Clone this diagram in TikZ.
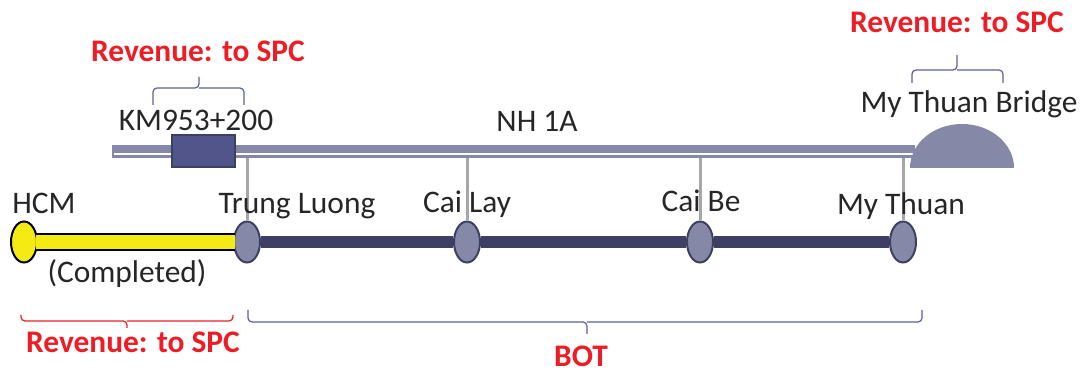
\documentclass[tikz,border=0pt]{standalone}
\usepackage{fontspec}
\setmainfont{Carlito}
\usepackage{xcolor}
\usepackage{tikz}
\usetikzlibrary{shapes.geometric,shapes.misc}
\definecolor{roadc}{HTML}{8589A7}
\definecolor{darkc}{HTML}{3F3F65}
\definecolor{stnb}{HTML}{3E4060}
\definecolor{kmc}{HTML}{52558A}
\definecolor{linkc}{HTML}{A6A6A6}
\definecolor{yelc}{HTML}{F5EB14}
\definecolor{revc}{HTML}{EE1C25}
\definecolor{brcb}{HTML}{5A5E9E}
\definecolor{txtc}{HTML}{262626}

\begin{document}
\begin{tikzpicture}[x=0.5pt, y=-0.5pt,
  lbl/.style={font=\fontsize{15.7}{18}\selectfont, text=txtc, inner sep=0pt, anchor=base},
  rev/.style={lbl, font=\fontsize{15.7}{18}\selectfont\bfseries, text=revc},
  stn/.style={ellipse, draw=stnb, fill=roadc, line width=1pt,
              minimum width=13pt, minimum height=20.5pt, inner sep=0pt},
  link/.style={draw=linkc, line width=1.5pt},
  bar/.style={draw=darkc, line width=6pt},
  brc/.style={line width=0.6pt, rounded corners=2pt}]
\useasboundingbox (0,0) rectangle (1087,373);
% NH 1A and the bridge
\node[fill=roadc, minimum width=401.5pt, minimum height=6.5pt, inner sep=0pt] (nh) at (513.5,151.5) {};
\draw[white, line width=0.8pt] (114,154) -- (913,154);
\fill[roadc] (1014,168) arc[start angle=0, end angle=180, x radius=26pt, y radius=22pt] -- cycle;
\node[chamfered rectangle, chamfered rectangle corners={north west,north east},
      chamfered rectangle xsep=1.5pt, chamfered rectangle ysep=1.5pt,
      fill=kmc, draw=stnb, line width=0.8pt, minimum width=31.5pt, minimum height=16pt,
      inner sep=0pt] (km) at (203.5,151) {};
% stations
\node[stn, fill=yelc, draw=black] (hcm) at (24,242) {};
\node[stn] (tl) at (247,242) {};
\node[stn] (cl) at (467,242) {};
\node[stn] (cb) at (700,242) {};
\node[stn] (mt) at (903,242) {};
\foreach \s in {tl,cl,cb,mt}
  \draw[link] (\s.north |- nh.south) -- (\s.north);
\draw[line width=9pt] ([xshift=-1pt]hcm.east) -- ([xshift=1pt]tl.west);
\draw[yelc, line width=7pt] ([xshift=-1pt]hcm.east) -- ([xshift=1pt]tl.west);
\foreach \a/\b in {tl/cl,cl/cb,cb/mt}
  \draw[bar] (\a.east) -- (\b.west);
% labels
\node[lbl] (kml) at (196,131) {KM953+200};
\node[lbl] (nhl) at (537,132) {NH 1A};
\node[lbl] (mtbl) at (969,113) {My Thuan Bridge};
\node[lbl] (hcml) at (44,214) {HCM};
\node[lbl] (tll) at (297,214) {Trung Luong};
\node[lbl] (cll) at (467,213) {Cai Lay};
\node[lbl] (cbl) at (701,212) {Cai Be};
\node[lbl] (mtl) at (901,215) {My Thuan};
\node[lbl] (cpl) at (127,283) {(Completed)};
\node[rev] (rv1) at (198,62) {Revenue: to SPC};
\node[rev] (rv2) at (957,33) {Revenue: to SPC};
\node[rev] (rv3) at (133,353) {Revenue: to SPC};
\node[rev] (bot) at (581,367) {BOT};
% brackets
\draw[brc, draw=brcb] (153,105) |- (199,88) -- (199,77) (199,88) -| (244,105);
\draw[brc, draw=brcb] (912,83) |- (957,70) -- (957,55) (957,70) -| (1003,83);
\draw[brc, draw=revc] (21,315) |- (127,321) -- (127,328) (127,321) -| (233,315);
\draw[brc, draw=brcb] (248,310) |- (587,322) -- (587,334) (587,322) -| (922,310);
\end{tikzpicture}
\end{document}
